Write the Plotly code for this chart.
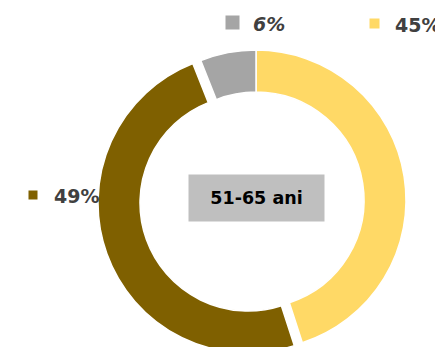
import plotly.graph_objects as go

# slices, clockwise from 12 o'clock
labels = ["45%", "49%", "6%"]
values = [45, 49, 6]
colors = ["#FFD966", "#7F6000", "#A5A5A5"]
center_label = "51-65 ani"

W, H = 443, 347
OFF = 8  # page body margin seen in the render
CLEAR = "rgba(0,0,0,0)"


def px_x(x):
    return (x - OFF) / W


def px_y(y):
    return 1 - (y - OFF) / H


def pie_domain(cx, cy, r):
    # screen-pixel centre/radius -> paper domain
    fx, fy = cx - OFF, cy - OFF
    return dict(x=[(fx - r) / W, (fx + r) / W],
                y=[1 - (fy + r) / H, 1 - (fy - r) / H])


fig = go.Figure()

# main ring: yellow + gray, brown slot left empty
fig.add_trace(go.Pie(
    values=values, labels=labels, sort=False, direction="clockwise", rotation=0,
    hole=0.72, textinfo="none", hoverinfo="skip", showlegend=False,
    marker=dict(colors=[colors[0], CLEAR, colors[2]],
                line=dict(color="white", width=[1.5, 0, 1.5])),
    domain=pie_domain(256, 200, 150),
))

# brown slice pulled out a little towards the lower left
fig.add_trace(go.Pie(
    values=values, labels=labels, sort=False, direction="clockwise", rotation=0,
    hole=0.72, textinfo="none", hoverinfo="skip", showlegend=False,
    marker=dict(colors=[CLEAR, colors[1], CLEAR],
                line=dict(color="white", width=[0, 1.5, 0])),
    domain=pie_domain(248, 203, 150),
))

# legend-ish labels: (marker centre x, y, marker size, text left x, italic)
label_pos = {
    "6%": (232.5, 23, 13, 251, True),
    "45%": (374.5, 23.5, 9, 393, False),
    "49%": (32.5, 195, 8, 52, False),
}
annotations = []
for lab, col in zip(labels, colors):
    mx, my, ms, tx, ital = label_pos[lab]
    annotations.append(dict(
        x=px_x(mx), y=px_y(my), xref="paper", yref="paper", text=" ",
        showarrow=False, width=ms, height=ms, bgcolor=col, borderpad=0,
        xanchor="center", yanchor="middle",
    ))
    txt = f"<b><i>{lab}</i></b>" if ital else f"<b>{lab}</b>"
    annotations.append(dict(
        x=px_x(tx), y=px_y(my + 1), xref="paper", yref="paper", text=txt,
        showarrow=False, xanchor="left", yanchor="middle",
        font=dict(family="DejaVu Sans", size=19, color="#404040"),
    ))

annotations.append(dict(
    x=px_x(256.5), y=px_y(198), xref="paper", yref="paper",
    text=f"<b>{center_label}</b>", showarrow=False, width=135, height=46,
    bgcolor="#BFBFBF", borderpad=0, xanchor="center", yanchor="middle",
    font=dict(family="DejaVu Sans", size=17.5, color="black"),
))

fig.update_layout(
    width=W, height=H,
    margin=dict(l=0, r=0, t=0, b=0),
    paper_bgcolor="white", plot_bgcolor="white",
    annotations=annotations,
)

fig.write_html("out.html")
